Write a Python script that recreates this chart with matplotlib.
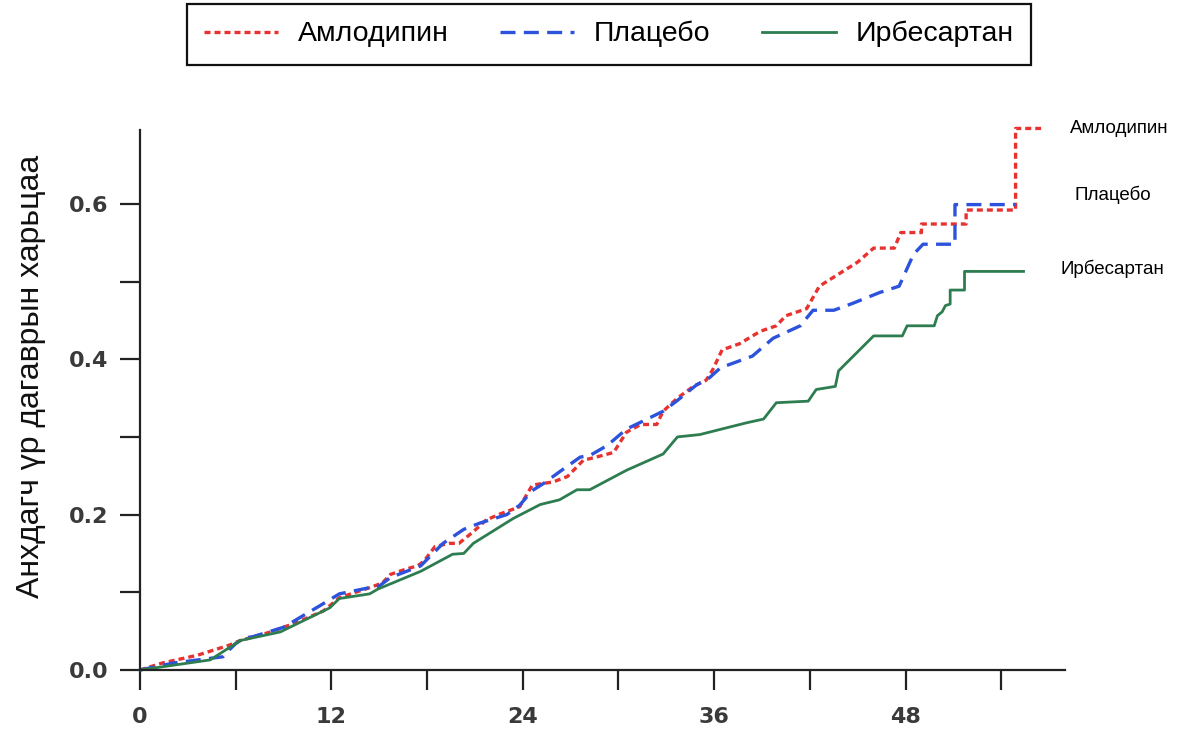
import matplotlib
matplotlib.use("Agg")
import matplotlib.pyplot as plt
from matplotlib.ticker import MultipleLocator

# данные (месяцы, кумулятивная доля)
names = ["Амлодипин", "Плацебо", "Ирбесартан"]

aml_x = [0, 1.4, 3.6, 5.6, 6.3, 8.2, 9.8, 11.5, 12.5, 14.4, 15.2, 15.7, 16.7, 17.4,
         17.8, 18.5, 19.4, 20.0, 20.9, 21.7, 22.6, 23.8, 24.6, 25.9, 26.8, 27.8,
         28.6, 29.7, 30.5, 31.4, 32.4, 32.8, 33.7, 34.7, 35.5, 35.9, 36.5, 37.6,
         38.9, 39.9, 40.5, 41.8, 42.6, 45.0, 46.0, 47.3, 47.7, 49.0, 49.0, 51.8,
         51.8, 54.9, 54.9, 56.5]
aml_y = [0, 0.009, 0.019, 0.032, 0.038, 0.049, 0.061, 0.076, 0.093, 0.106, 0.112,
         0.123, 0.13, 0.134, 0.14, 0.159, 0.163, 0.163, 0.178, 0.193, 0.201, 0.21,
         0.238, 0.242, 0.249, 0.27, 0.274, 0.28, 0.306, 0.316, 0.316, 0.333, 0.35,
         0.365, 0.373, 0.386, 0.412, 0.42, 0.436, 0.443, 0.456, 0.465, 0.494, 0.525,
         0.543, 0.543, 0.563, 0.563, 0.574, 0.574, 0.592, 0.592, 0.697, 0.697]

pla_x = [0, 2.1, 4.4, 5.2, 5.6, 6.0, 6.5, 7.1, 9.0, 11.3, 12.5, 14.4, 15.0, 15.7,
         17.6, 19.0, 20.3, 21.3, 23.0, 23.8, 24.6, 25.3, 26.3, 27.6, 28.2, 29.3,
         30.5, 31.8, 32.8, 33.7, 34.9, 35.7, 36.4, 38.4, 39.7, 41.4, 42.2, 43.5,
         44.7, 46.4, 47.6, 48.5, 49.1, 51.1, 51.1, 54.9]
pla_y = [0, 0.009, 0.015, 0.017, 0.026, 0.034, 0.041, 0.043, 0.055, 0.083, 0.098,
         0.106, 0.108, 0.119, 0.134, 0.163, 0.181, 0.189, 0.2, 0.212, 0.231, 0.24,
         0.255, 0.274, 0.276, 0.289, 0.31, 0.323, 0.333, 0.347, 0.367, 0.376, 0.389,
         0.404, 0.427, 0.443, 0.463, 0.463, 0.472, 0.486, 0.494, 0.535, 0.548, 0.548,
         0.599, 0.599]

irb_x = [0, 4.4, 6.3, 8.8, 11.9, 12.5, 14.4, 14.9, 17.6, 19.6, 20.3, 20.9, 23.4,
         25.1, 26.3, 27.4, 28.2, 30.5, 32.8, 33.7, 35.1, 38.0, 39.1, 39.9, 41.9,
         42.4, 43.6, 43.8, 46.0, 47.8, 48.1, 49.8, 50.0, 50.3, 50.5, 50.8, 50.8,
         51.7, 51.7, 55.4]
irb_y = [0, 0.013, 0.038, 0.049, 0.08, 0.092, 0.098, 0.104, 0.127, 0.149, 0.150,
         0.163, 0.195, 0.213, 0.219, 0.232, 0.232, 0.257, 0.278, 0.3, 0.303, 0.318,
         0.323, 0.344, 0.346, 0.361, 0.365, 0.385, 0.43, 0.43, 0.443, 0.443, 0.456,
         0.461, 0.469, 0.471, 0.489, 0.489, 0.513, 0.513]

x_ticks = [0, 12, 24, 36, 48]
y_ticks = [0.0, 0.2, 0.4, 0.6]

plt.rcParams['font.family'] = ['Liberation Sans', 'DejaVu Sans']

fig = plt.figure(figsize=(12.02, 7.29), dpi=100)
ax = fig.add_axes([140 / 1202, 59 / 729, 925 / 1202, 540 / 729])

red, blue, green = '#e8322f', '#2d52dc', '#2e7d50'
l1, = ax.plot(aml_x, aml_y, color=red, lw=2.4, linestyle=(0, (1.8, 1.2)), clip_on=False)
l2, = ax.plot(pla_x, pla_y, color=blue, lw=2.4, linestyle=(0, (4.5, 2.5)), clip_on=False)
l3, = ax.plot(irb_x, irb_y, color=green, lw=2.0, clip_on=False)

ax.set_xlim(0, 58)
ax.set_ylim(0, 0.695)
ax.set_xticks(x_ticks)
ax.set_yticks(y_ticks)
ax.set_yticklabels([f"{v:.1f}" for v in y_ticks])
ax.xaxis.set_minor_locator(MultipleLocator(6))
ax.yaxis.set_minor_locator(MultipleLocator(0.1))

for sp in ['top', 'right']:
    ax.spines[sp].set_visible(False)
for sp in ['left', 'bottom']:
    ax.spines[sp].set_linewidth(1.6)
    ax.spines[sp].set_color('#222222')

ax.tick_params(which='both', direction='out', length=14.5, width=1.6, color='#222222')
ax.tick_params(axis='x', which='major', pad=12)
ax.tick_params(axis='y', which='major', pad=8)
for lab in ax.get_xticklabels() + ax.get_yticklabels():
    lab.set_family('DejaVu Sans')
    lab.set_fontweight('bold')
    lab.set_fontsize(16)
    lab.set_color('#3a3a3a')

ax.set_ylabel("Анхдагч үр дагаврын харьцаа", fontsize=23, color='#111111')
ax.yaxis.set_label_coords(-0.102, 0.543)

# подписи справа
ax.text(58.3, 0.697, names[0], fontsize=13.5, va='center', ha='left', clip_on=False)
ax.text(58.6, 0.611, names[1], fontsize=13.5, va='center', ha='left', clip_on=False)
ax.text(57.7, 0.516, names[2], fontsize=13.5, va='center', ha='left', clip_on=False)

leg = fig.legend([l1, l2, l3], names, loc='center', bbox_to_anchor=(0.5067, 0.953),
                 ncol=3, fontsize=20.5, handlelength=2.6, columnspacing=1.8,
                 handletextpad=0.7, fancybox=False, edgecolor='#111111',
                 borderpad=0.6, borderaxespad=0.3, framealpha=1)
leg.get_frame().set_linewidth(1.6)

fig.savefig("out.png", dpi=100)
